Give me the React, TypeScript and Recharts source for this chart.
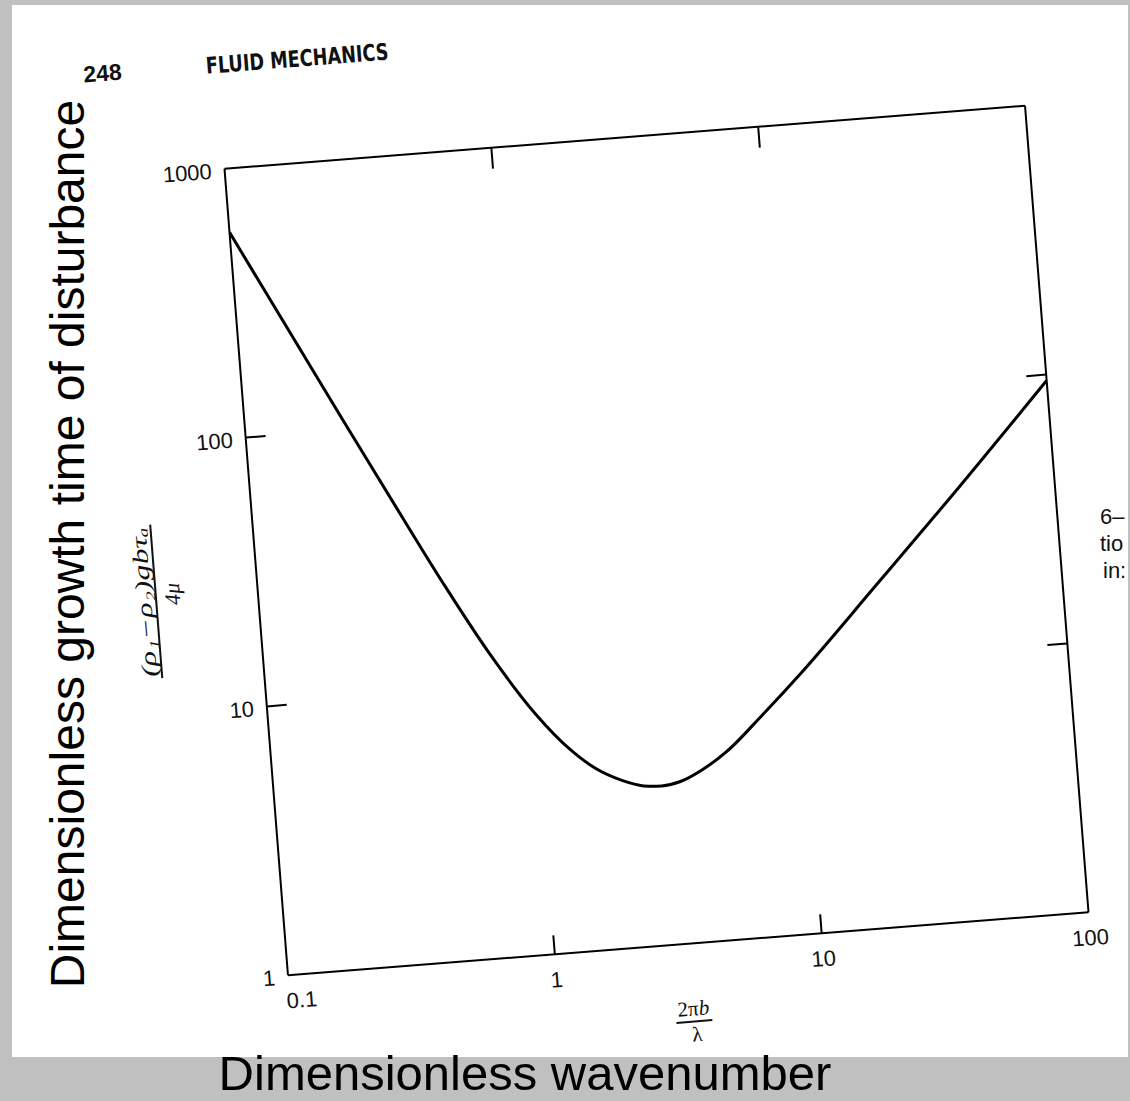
import React from 'react';
import { LineChart, Line, XAxis, YAxis } from 'recharts';

// values (log-log)
const wavenumber = [0.1, 0.2, 0.4, 0.5, 0.7, 1, 1.3, 1.6, 2, 2.4, 2.8, 3.3, 4, 5, 7, 10, 20, 40, 100];
const growthTime = [580, 147, 37.8, 24.7, 13.5, 7.8, 5.7, 4.75, 4.2, 3.95, 3.9, 4.0, 4.35, 5.0, 6.7, 9.3, 18.5, 37, 95];

const xTicks = [0.1, 1, 10, 100];
const yTicks = [1, 10, 100, 1000];
const xMarks = [1, 10];
const yMarks = [10, 100];

const data = wavenumber.map((k, i) => ({ k, t: growthTime[i] }));

const PLOT_W = 803;
const PLOT_H = 809;
const LEFT = 130;
const RIGHT = 40;
const TOP = 10;
const BOTTOM = 110;
const CW = LEFT + PLOT_W + RIGHT;
const CH = TOP + PLOT_H + BOTTOM;
const cx = LEFT + PLOT_W / 2;
const cy = TOP + PLOT_H / 2;

const tickFont = "'Liberation Sans', Arial, sans-serif";

const BottomTick = (props: any) => {
  const { x, y, payload } = props;
  const v = payload.value;
  return (
    <g>
      {xMarks.includes(v) && <line x1={x} y1={y} x2={x} y2={y - 19} stroke="#000" strokeWidth={2} />}
      <text x={x + (v === 0.1 ? 12 : 0)} y={y + 33} textAnchor="middle" fontSize={22} fontFamily={tickFont} fill="#111">
        {v}
      </text>
    </g>
  );
};

const LeftTick = (props: any) => {
  const { x, y, payload } = props;
  const v = payload.value;
  return (
    <g>
      {yMarks.includes(v) && <line x1={x} y1={y} x2={x + 20} y2={y} stroke="#000" strokeWidth={2} />}
      <text x={x - 13} y={y + 9} textAnchor="end" fontSize={22} fontFamily={tickFont} fill="#111">
        {v}
      </text>
    </g>
  );
};

const TopTick = (props: any) => {
  const { x, y, payload } = props;
  if (!xMarks.includes(payload.value)) return <g />;
  return <line x1={x} y1={y} x2={x} y2={y + 21} stroke="#000" strokeWidth={2} />;
};

const RightTick = (props: any) => {
  const { x, y, payload } = props;
  if (!yMarks.includes(payload.value)) return <g />;
  return <line x1={x} y1={y} x2={x - 20} y2={y} stroke="#000" strokeWidth={2} />;
};

const axisLine = { stroke: '#000', strokeWidth: 2 };

export default function App() {
  const barX = 28;
  const barY = 436;
  const fx = LEFT + PLOT_W / 2;
  const fy = TOP + PLOT_H + 78;
  return (
    <div style={{ position: 'absolute', left: 0, top: 0, width: 1130, height: 1101, background: '#c0c0c0', overflow: 'hidden' }}>
      <div style={{ position: 'absolute', left: 12, top: 5, width: 1116, height: 1052, background: '#fff', overflow: 'hidden' }}>
        <svg width={1116} height={1052} style={{ position: 'absolute', left: 0, top: 0 }}>
          <g fontFamily={tickFont} fontSize={22} fill="#111">
            <text x={1088} y={519}>6–</text>
            <text x={1088} y={546}>tio</text>
            <text x={1091} y={573}>in:</text>
          </g>
        </svg>
      </div>

      <div
        style={{
          position: 'absolute',
          left: 656 - cx,
          top: 540.5 - cy,
          width: CW,
          height: CH,
          transform: 'rotate(-4.5deg)',
          transformOrigin: `${cx}px ${cy}px`,
        }}
      >
        <LineChart width={CW} height={CH} data={data} margin={{ top: 0, right: 0, bottom: 0, left: 0 }}>
          <XAxis
            xAxisId="b"
            dataKey="k"
            type="number"
            scale="log"
            domain={[0.1, 100]}
            allowDataOverflow
            ticks={xTicks}
            interval={0}
            tickSize={0}
            tickMargin={0}
            tickLine={false}
            axisLine={axisLine}
            height={BOTTOM}
            tick={BottomTick}
          />
          <XAxis
            xAxisId="t"
            orientation="top"
            dataKey="k"
            type="number"
            scale="log"
            domain={[0.1, 100]}
            allowDataOverflow
            ticks={xMarks}
            interval={0}
            tickSize={0}
            tickMargin={0}
            tickLine={false}
            axisLine={axisLine}
            height={TOP}
            tick={TopTick}
          />
          <YAxis
            yAxisId="l"
            type="number"
            scale="log"
            domain={[1, 1000]}
            allowDataOverflow
            ticks={yTicks}
            interval={0}
            tickSize={0}
            tickMargin={0}
            tickLine={false}
            axisLine={axisLine}
            width={LEFT}
            tick={LeftTick}
          />
          <YAxis
            yAxisId="r"
            orientation="right"
            type="number"
            scale="log"
            domain={[1, 1000]}
            allowDataOverflow
            ticks={yMarks}
            interval={0}
            tickSize={0}
            tickMargin={0}
            tickLine={false}
            axisLine={axisLine}
            width={RIGHT}
            tick={RightTick}
          />
          <Line
            xAxisId="t"
            yAxisId="r"
            dataKey="t"
            stroke="none"
            dot={false}
            activeDot={false}
            isAnimationActive={false}
          />
          <Line
            xAxisId="b"
            yAxisId="l"
            dataKey="t"
            type="monotone"
            stroke="#000"
            strokeWidth={3}
            dot={false}
            activeDot={false}
            isAnimationActive={false}
          />
        </LineChart>

        <svg width={CW} height={CH} style={{ position: 'absolute', left: 0, top: 0, overflow: 'visible', pointerEvents: 'none' }}>
          <text x={16} y={-87} textAnchor="middle" fontSize={23} fontWeight="bold" fontFamily={tickFont} fill="#111">
            248
          </text>
          <text
            x={211}
            y={-86}
            textAnchor="middle"
            fontSize={23}
            fontWeight="bold"
            fontFamily="'DejaVu Sans Condensed', 'Liberation Sans', sans-serif"
            textLength={183}
            lengthAdjust="spacingAndGlyphs"
            fill="#111"
          >
            FLUID MECHANICS
          </text>

          <g transform={`translate(${barX}, ${barY}) rotate(-90)`} fontFamily="'Liberation Serif', serif" fill="#111">
            <text x={0} y={-5} textAnchor="middle" fontSize={22} fontStyle="italic" textLength={150} lengthAdjust="spacingAndGlyphs">
              (ρ₁−ρ₂)gbτₐ
            </text>
            <line x1={-77} y1={0} x2={77} y2={0} stroke="#111" strokeWidth={2} />
            <text x={6} y={24} textAnchor="middle" fontSize={22} fontStyle="italic">
              4μ
            </text>
          </g>

          <g fontFamily="'Liberation Serif', serif" fill="#111">
            <text x={fx} y={fy - 6} textAnchor="middle" fontSize={21}>
              2π<tspan fontStyle="italic">b</tspan>
            </text>
            <line x1={fx - 18} y1={fy} x2={fx + 18} y2={fy} stroke="#111" strokeWidth={2} />
            <text x={fx + 2} y={fy + 20} textAnchor="middle" fontSize={21}>
              λ
            </text>
          </g>
        </svg>
      </div>

      <svg width={1130} height={1101} style={{ position: 'absolute', left: 0, top: 0, pointerEvents: 'none' }}>
        <g fontFamily="'Liberation Sans', Arial, sans-serif" fill="#000">
          <text transform="translate(84, 544) rotate(-90)" textAnchor="middle" fontSize={48}>
            Dimensionless growth time of disturbance
          </text>
          <text x={525} y={1090} textAnchor="middle" fontSize={49}>
            Dimensionless wavenumber
          </text>
        </g>
      </svg>
    </div>
  );
}
